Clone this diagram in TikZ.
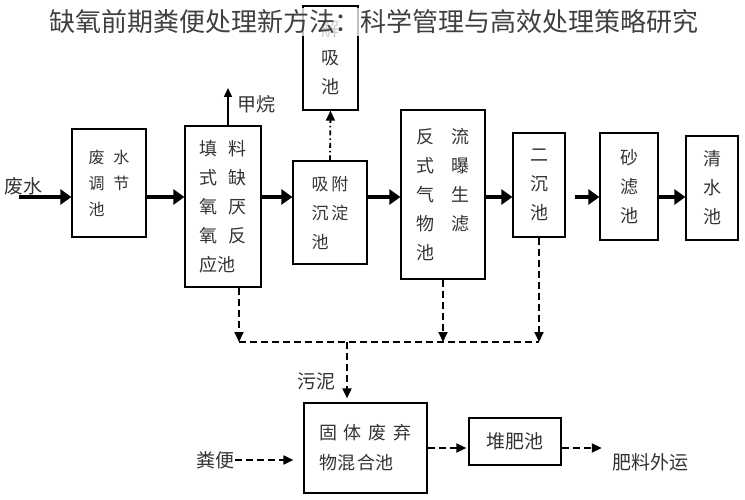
\documentclass[tikz,border=0pt]{standalone}
\usepackage{fontspec}
\newfontfamily\cjk{Noto Sans CJK SC}
\usetikzlibrary{arrows.meta}
\tikzset{
    tank/.style={draw,line width=1.2pt,inner sep=0pt,align=left,text=black!80,font=\cjk\fontsize{18}{29}\selectfont},
    tankc/.style={tank,align=center},
    lbl/.style={inner sep=0pt,text=black!80,font=\cjk\fontsize{19}{21}\selectfont},
    ttl/.style={fill=white,fill opacity=.75,text opacity=1,inner sep=2pt,text=black!75,font=\cjk\fontsize{26}{28}\selectfont},
    flow/.style={line width=4.5pt,-{Triangle[length=11pt,width=15pt]}},
    gas/.style={line width=1.5pt,-{Triangle[length=9pt,width=8pt]}},
    dotdash/.style={line width=1.8pt,dash pattern=on 5pt off 3pt on 1.5pt off 3pt,-{Triangle[length=10pt,width=9pt]}},
    sludge/.style={line width=1.8pt,dash pattern=on 7pt off 4pt},
    sludgearr/.style={sludge,-{Triangle[length=10pt,width=9pt]}}
}
\begin{document}
\begin{tikzpicture}[x=1pt,y=-1pt]
        \useasboundingbox (0,0) rectangle (745,500);
        %---
        \node[tank,minimum width=74pt,minimum height=108pt,font=\cjk\fontsize{16}{26}\selectfont] (p-adj) at (109,183) {废\hspace{9pt}水\\调\hspace{9pt}节\\池};
        \node[tank,minimum width=76pt,minimum height=161pt] (p-anaer) at (223,206.5) {填\hspace{11pt}料\\式\hspace{11pt}缺\\氧\hspace{11pt}厌\\氧\hspace{11pt}反\\应池};
        \node[tank,minimum width=74pt,minimum height=103pt,font=\cjk\fontsize{17}{29}\selectfont] (p-adsorp) at (330,212.5) {吸\hspace{3pt}附\\沉\hspace{3pt}淀\\池};
        \node[tankc,minimum width=55pt,minimum height=104pt] (p-desorp) at (330.5,58) {解\\吸\\池};
        \node[tank,minimum width=84pt,minimum height=169pt] (p-bio) at (443,194.5) {反\hspace{17pt}流\\式\hspace{17pt}曝\\气\hspace{17pt}生\\物\hspace{17pt}滤\\池};
        \node[tankc,minimum width=52pt,minimum height=104pt] (p-sec) at (539,185) {二\\沉\\池};
        \node[tankc,minimum width=58pt,minimum height=107pt] (p-sand) at (629,186.5) {砂\\滤\\池};
        \node[tankc,minimum width=52pt,minimum height=104pt] (p-clear) at (712,188) {清\\水\\池};
        \node[tank,minimum width=123pt,minimum height=90pt,font=\cjk\fontsize{18}{30}\selectfont] (p-mix) at (365.5,448) {固\hspace{7pt}体\hspace{7pt}废\hspace{7pt}弃\\物\hspace{1pt}混\hspace{1pt}合\hspace{1pt}池};
        \node[tankc,minimum width=92pt,minimum height=47pt,font=\cjk\fontsize{19}{21}\selectfont] (p-comp) at (515,441.5) {堆肥池};

        \node[ttl] (t-main) at (374,22) {缺氧前期粪便处理新方法：科学管理与高效处理策略研究};

        \node[lbl] (l-ww) at (24,186) {废水};
        \node[lbl] (l-ch4) at (256,104) {甲烷};
        \node[lbl] (l-sludge) at (316,381) {污泥};
        \node[lbl] (l-feces) at (215,460) {粪便};
        \node[lbl] (l-out) at (650,462) {肥料外运};

        %---
        \coordinate (flowline) at (0,197);
        \coordinate (ww-in) at (19,197);
        \coordinate (ch4-out) at (228,88);
        \coordinate (s-l) at (239,342);
        \coordinate (s-m) at (347,342);

        \begin{scope}[every path/.style={flow}]
            \draw (ww-in) -- (p-adj.west |- flowline);
            \draw (p-adj.east |- flowline) -- (p-anaer.west |- flowline);
            \draw (p-anaer.east |- flowline) -- (p-adsorp.west |- flowline);
            \draw (p-adsorp.east |- flowline) -- (p-bio.west |- flowline);
            \draw (p-bio.east |- flowline) -- (p-sec.west |- flowline);
            \draw[shorten <=9pt] (p-sec.east |- flowline) -- (p-sand.west |- flowline);
            \draw (p-sand.east |- flowline) -- (p-clear.west |- flowline);
        \end{scope}

        \draw[gas] (p-anaer.north -| ch4-out) -- (ch4-out);
        \draw[dotdash] (p-adsorp.north) -- (p-desorp.south);

        \draw[sludgearr] (p-anaer.south -| s-l) -- (s-l);
        \draw[sludgearr] (p-bio.south) -- (p-bio.south |- s-l);
        \draw[sludgearr] (p-sec.south) -- (p-sec.south |- s-l);
        \draw[sludge] (s-l) -- (p-sec.south |- s-l);
        \draw[sludgearr,shorten >=4pt] (s-m) -- (p-mix.north -| s-m);

        \draw[sludgearr,shorten <=1pt,shorten >=10pt] (l-feces.east) -- (p-mix.west |- l-feces.east);
        \draw[sludgearr,shorten >=2pt] (p-mix.east) -- (p-comp.west |- p-mix.east);
        \draw[sludgearr,shorten >=10pt] (p-comp.east |- p-mix.east) -- (l-out.west |- p-mix.east);
    \end{tikzpicture}
\end{document}
